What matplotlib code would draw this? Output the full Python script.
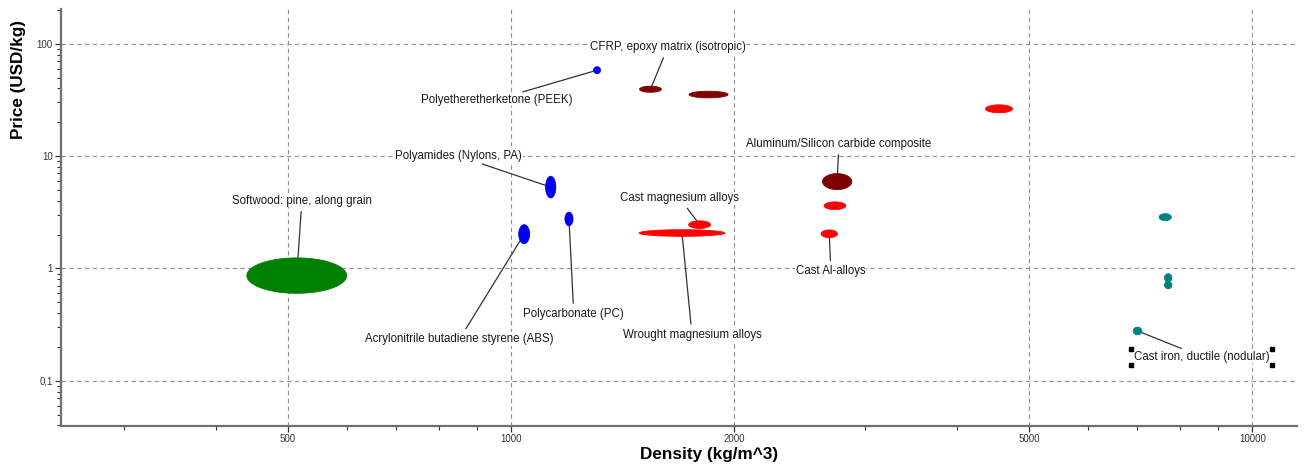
'''Price vs density bubble chart (material property chart)'''

import numpy as np
import matplotlib.pyplot as plt
import matplotlib.text as mtext
from matplotlib.ticker import FixedLocator, FixedFormatter, LogLocator, NullFormatter
from matplotlib.transforms import IdentityTransform

plt.rcParams['font.family'] = ['Liberation Sans', 'DejaVu Sans']

# Materials: density range [kg/m^3], price range [USD/kg], colour
names = ['Softwood', 'PEEK', 'CFRP', 'CFRP 2', 'Metal 1', 'AlSiC', 'Metal 2',
         'Cast Al', 'Cast Mg', 'Wrought Mg', 'PA', 'PC', 'ABS',
         'Iron 1', 'Iron 2', 'Iron 3', 'Cast iron ductile']
dens_lo = [440, 1292, 1490, 1738, 4365, 2631, 2644, 2620, 1736, 1488, 1113, 1182, 1024,
           7488, 7614, 7614, 6908]
dens_hi = [600, 1320, 1595, 1962, 4748, 2882, 2829, 2756, 1858, 1943, 1149, 1212, 1059,
           7776, 7790, 7790, 7096]
price_lo = [0.60, 54.2, 37.0, 33.0, 24.3, 5.03, 3.34, 1.88, 2.27, 1.93, 4.24, 2.40, 1.66,
            2.66, 0.756, 0.659, 0.2565]
price_hi = [1.24, 62.5, 41.9, 37.8, 28.6, 6.98, 3.91, 2.20, 2.65, 2.21, 6.61, 3.16, 2.45,
            3.07, 0.897, 0.766, 0.300]
colores = ['#008000', '#0000f0', '#800000', '#800000', '#ff0000', '#800000', '#ff0000',
           '#ff0000', '#ff0000', '#ff0000', '#0000f0', '#0000f0', '#0000f0',
           '#008080', '#008080', '#008080', '#008080']

# Labels: text, position (density, price), index of material pointed to
label_txt = ['CFRP, epoxy matrix (isotropic)', 'Polyetheretherketone (PEEK)',
             'Polyamides (Nylons, PA)', 'Cast magnesium alloys', 'Wrought magnesium alloys',
             'Cast Al-alloys', 'Aluminum/Silicon carbide composite',
             'Softwood: pine, along grain', 'Acrylonitrile butadiene styrene (ABS)',
             'Polycarbonate (PC)', 'Cast iron, ductile (nodular)']
label_x = [1627, 955, 850, 1689, 1754, 2700, 2768, 522, 852, 1215, 8543]
label_y = [93.0, 31.8, 10.0, 4.20, 0.257, 0.94, 12.8, 4.00, 0.235, 0.392, 0.164]
label_idx = [2, 1, 10, 8, 9, 7, 5, 0, 12, 11, 16]

xticks = [500, 1000, 2000, 5000, 10000]
xticklabels = ['500', '1000', '2000', '5000', '10000']
yticks = [0.1, 1, 10, 100]
yticklabels = ['0,1', '1', '10', '100']

fig = plt.figure(figsize=(13.04, 4.68), dpi=100)
ax = fig.add_axes([61/1304, 1-426/468, (1297-61)/1304, (426-9)/468])
ax.set_xscale('log')
ax.set_yscale('log')
ax.set_xlim(247, 11490)
ax.set_ylim(0.0395, 204)

# Ellipses drawn in log space
t = np.linspace(0, 2*np.pi, 120)
for i in range(len(names)):
    lx0, lx1 = np.log10(dens_lo[i]), np.log10(dens_hi[i])
    ly0, ly1 = np.log10(price_lo[i]), np.log10(price_hi[i])
    cx, rx = (lx0 + lx1)/2, (lx1 - lx0)/2
    cy, ry = (ly0 + ly1)/2, (ly1 - ly0)/2
    ax.fill(10**(cx + rx*np.cos(t)), 10**(cy + ry*np.sin(t)),
            color=colores[i], lw=0.6, ec=colores[i], zorder=3)

textos = []
for k in range(len(label_txt)):
    i = label_idx[k]
    cx = 10**((np.log10(dens_lo[i]) + np.log10(dens_hi[i]))/2)
    cy = 10**((np.log10(price_lo[i]) + np.log10(price_hi[i]))/2)
    a = ax.annotate(label_txt[k], xy=(cx, cy), xytext=(label_x[k], label_y[k]),
                    ha='center', va='center', fontsize=8.3, color='#1a1a1a',
                    arrowprops=dict(arrowstyle='-', color='#333333', lw=0.9,
                                    shrinkA=3, shrinkB=0),
                    bbox=dict(boxstyle='square,pad=0.05', fc='white', ec='none'),
                    zorder=2)
    textos.append(a)

# Ticks and grid
ax.xaxis.set_major_locator(FixedLocator(xticks))
ax.xaxis.set_major_formatter(FixedFormatter(xticklabels))
ax.xaxis.set_minor_locator(LogLocator(base=10, subs=[3, 4, 6, 7, 8, 9]))
ax.xaxis.set_minor_formatter(NullFormatter())
ax.yaxis.set_major_locator(FixedLocator(yticks))
ax.yaxis.set_major_formatter(FixedFormatter(yticklabels))
ax.yaxis.set_minor_locator(LogLocator(base=10, subs=np.arange(2, 10)))
ax.yaxis.set_minor_formatter(NullFormatter())
ax.tick_params(which='major', length=4, width=0.9, color='#333333', labelsize=7,
               labelcolor='#333333', pad=2)
ax.tick_params(which='minor', length=3, width=0.8, color='#333333')
ax.grid(True, which='major', ls=(0, (4, 3)), color='#909090', lw=0.8)
ax.set_axisbelow(True)

for s in ['top', 'right']:
    ax.spines[s].set_visible(False)
for s in ['left', 'bottom']:
    ax.spines[s].set_color('#707070')
    ax.spines[s].set_linewidth(1.6)

ax.set_xlabel('Density (kg/m^3)', fontsize=12.3, fontweight='bold')
ax.set_ylabel('Price (USD/kg)', fontsize=12.3, fontweight='bold')
ax.xaxis.set_label_coords(0.524, -0.0695)
ax.yaxis.set_label_coords(-0.0345, 0.832)
ax.xaxis.label.set_va('center')
ax.yaxis.label.set_va('center')

# Selection handles around the last label (text box only, not the leader line)
fig.canvas.draw()
bb = mtext.Text.get_window_extent(textos[-1], renderer=fig.canvas.get_renderer())
x0, x1 = bb.x0 - 3, bb.x1 + 3
y0, y1 = bb.y0 - 2, bb.y1 + 2
for hx in (x0, x1):
    for hy in (y0, y1):
        fig.add_artist(plt.Rectangle((hx - 2, hy - 2), 4, 4, color='black',
                                     transform=IdentityTransform(), zorder=5))

fig.savefig('out.png', dpi=100)
